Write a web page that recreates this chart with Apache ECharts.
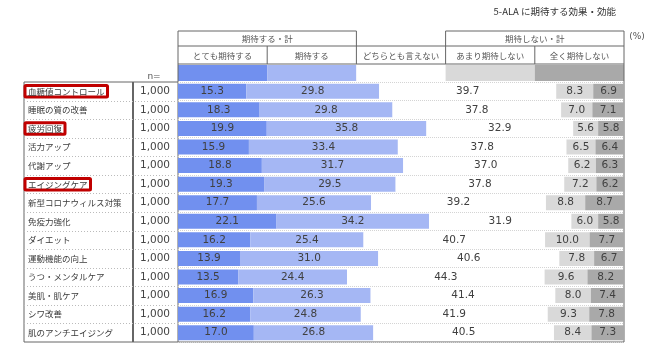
<!DOCTYPE html>
<html>
<head>
<meta charset="utf-8">
<script src="https://cdn.jsdelivr.net/npm/echarts@6/dist/echarts.min.js"></script>
<style>
  * { margin: 0; padding: 0; }
  html, body { width: 653px; height: 352px; background: #fff; overflow: hidden; }
  #chart { width: 653px; height: 352px; }
</style>
</head>
<body>
<div id="chart"></div>
<script>
// 5-ALA に期待する効果・効能 (n=1,000)
var categories = ['血糖値コントロール', '睡眠の質の改善', '疲労回復', '活力アップ', '代謝アップ', 'エイジングケア',
  '新型コロナウィルス対策', '免疫力強化', 'ダイエット', '運動機能の向上', 'うつ・メンタルケア', '美肌・肌ケア',
  'シワ改善', '肌のアンチエイジング'];
var nValues = ['1,000', '1,000', '1,000', '1,000', '1,000', '1,000', '1,000', '1,000', '1,000', '1,000', '1,000', '1,000', '1,000', '1,000'];
var highlighted = ['血糖値コントロール', '疲労回復', 'エイジングケア'];

var seriesNames = ['とても期待する', '期待する', 'どちらとも言えない', 'あまり期待しない', '全く期待しない'];
var veryExpect = [15.3, 18.3, 19.9, 15.9, 18.8, 19.3, 17.7, 22.1, 16.2, 13.9, 13.5, 16.9, 16.2, 17.0];
var expect = [29.8, 29.8, 35.8, 33.4, 31.7, 29.5, 25.6, 34.2, 25.4, 31.0, 24.4, 26.3, 24.8, 26.8];
var neutral = [39.7, 37.8, 32.9, 37.8, 37.0, 37.8, 39.2, 31.9, 40.7, 40.6, 44.3, 41.4, 41.9, 40.5];
var notMuch = [8.3, 7.0, 5.6, 6.5, 6.2, 7.2, 8.8, 6.0, 10.0, 7.8, 9.6, 8.0, 9.3, 8.4];
var notAtAll = [6.9, 7.1, 5.8, 6.4, 6.3, 6.2, 8.7, 5.8, 7.7, 6.7, 8.2, 7.4, 7.8, 7.3];

var groupHeaders = ['期待する・計', '期待しない・計'];
var colors = ['#7190ef', '#a5b7f4', '#ffffff', '#d9d9d9', '#a9a9a9'];

var JP = '"Noto Sans CJK JP", sans-serif';
var NUM = '"DejaVu Sans", Verdana, sans-serif';

// layout of the table around the grid
var G = { left: 178, right: 624, top: 82, bottom: 342 };
var tableLeft = 24, nCol = 133;
var hTop = 31, hMid = 46, hSub = 64;
var colW = (G.right - G.left) / 5;
var colX = [0, 1, 2, 3, 4, 5].map(function (i) { return G.left + colW * i; });
var rowH = (G.bottom - G.top) / categories.length;
var lineColor = '#666';

var graphics = [];
function line(x1, y1, x2, y2, style) {
  graphics.push({ type: 'line', shape: { x1: x1, y1: y1, x2: x2, y2: y2 },
    style: Object.assign({ stroke: lineColor, lineWidth: 1 }, style || {}), silent: true });
}
function text(str, x, y, opt) {
  graphics.push({ type: 'text', x: x, y: y, silent: true,
    style: Object.assign({ text: str, fill: '#555', font: '8.5px ' + JP, textAlign: 'center', textVerticalAlign: 'middle' }, opt || {}) });
}

// legend swatch row
for (var i = 0; i < 5; i++) {
  graphics.push({ type: 'rect', silent: true, shape: { x: colX[i], y: hSub + 1, width: colW, height: G.top - hSub - 2 },
    style: { fill: colors[i] } });
}
// header boxes
line(colX[0], hTop, colX[2], hTop);
line(colX[3], hTop, colX[5], hTop);
line(colX[0], hMid, colX[5], hMid);
line(colX[0], hSub, colX[5], hSub);
line(colX[0], hTop, colX[0], G.bottom);
line(colX[2], hTop, colX[2], hSub);
line(colX[3], hTop, colX[3], hSub);
line(colX[5], hTop, colX[5], G.bottom);
line(colX[1], hMid, colX[1], hSub);
line(colX[4], hMid, colX[4], hSub);
text(groupHeaders[0], (colX[0] + colX[2]) / 2, (hTop + hMid) / 2 + 0.5);
text(groupHeaders[1], (colX[3] + colX[5]) / 2, (hTop + hMid) / 2 + 0.5);
for (var j = 0; j < 5; j++) text(seriesNames[j], (colX[j] + colX[j + 1]) / 2, (hMid + hSub) / 2 + 0.5);
text('(%)', 637, 37, { font: '9px ' + NUM });
text('n=', 154, 77, { font: '9px ' + NUM });
text('5-ALA に期待する効果・効能', 616, 11, { textAlign: 'right', fill: '#333', font: '9.5px ' + JP });

// left table
line(tableLeft, G.top, G.left, G.top);
line(tableLeft, G.bottom, G.right, G.bottom);
line(tableLeft, G.top, tableLeft, G.bottom);
line(nCol, G.top, nCol, G.bottom, { lineWidth: 2 });
for (var r = 1; r < categories.length; r++) {
  var yy = Math.round(G.top + rowH * r) + 0.5;
  line(tableLeft, yy, G.left, yy, { stroke: '#bbb', lineDash: [1, 2] });
}

function makeSeries(name, data, k) {
  return {
    name: name, type: 'bar', stack: 'all', data: data, barWidth: 15,
    yAxisIndex: 0, silent: true,
    itemStyle: { color: colors[k] },
    label: {
      show: true, position: 'inside', color: '#404040', fontFamily: NUM, fontSize: 10.5,
      textBorderWidth: 0,
      formatter: function (p) { return p.value.toFixed(1); }
    }
  };
}

var chart = echarts.init(document.getElementById('chart'), null, { renderer: 'canvas' });
chart.setOption({
  animation: false,
  backgroundColor: '#fff',
  grid: { left: G.left, right: 653 - G.right, top: G.top, bottom: 352 - G.bottom, containLabel: false, outerBoundsMode: 'none' },
  xAxis: { type: 'value', min: 0, max: 100, show: false },
  yAxis: [{
    type: 'category', data: categories, inverse: true,
    axisLine: { show: false }, axisTick: { show: false },
    splitLine: { show: true, lineStyle: { color: '#d4d4d4', type: 'dotted' } },
    axisLabel: {
      margin: G.left - tableLeft - 1, align: 'left',
      formatter: function (v) { return (highlighted.indexOf(v) >= 0 ? '{hl|' : '{nm|') + v + '}'; },
      rich: {
        nm: { fontFamily: JP, fontSize: 8.5, color: '#3a3a3a', padding: [1, 3, 1, 3] },
        hl: { fontFamily: JP, fontSize: 8.5, color: '#3a3a3a', padding: [2, 3, 1, 3], lineHeight: 11,
          borderColor: '#c00000', borderWidth: 3, borderRadius: 1 }
      }
    }
  }, {
    type: 'category', data: nValues, inverse: true, position: 'left',
    axisLine: { show: false }, axisTick: { show: false }, splitLine: { show: false },
    axisLabel: { margin: G.left - 155, align: 'center', fontFamily: NUM, fontSize: 10.5, color: '#444' }
  }],
  series: [
    makeSeries(seriesNames[0], veryExpect, 0),
    makeSeries(seriesNames[1], expect, 1),
    makeSeries(seriesNames[2], neutral, 2),
    makeSeries(seriesNames[3], notMuch, 3),
    makeSeries(seriesNames[4], notAtAll, 4)
  ],
  graphic: graphics
});
</script>
</body>
</html>
